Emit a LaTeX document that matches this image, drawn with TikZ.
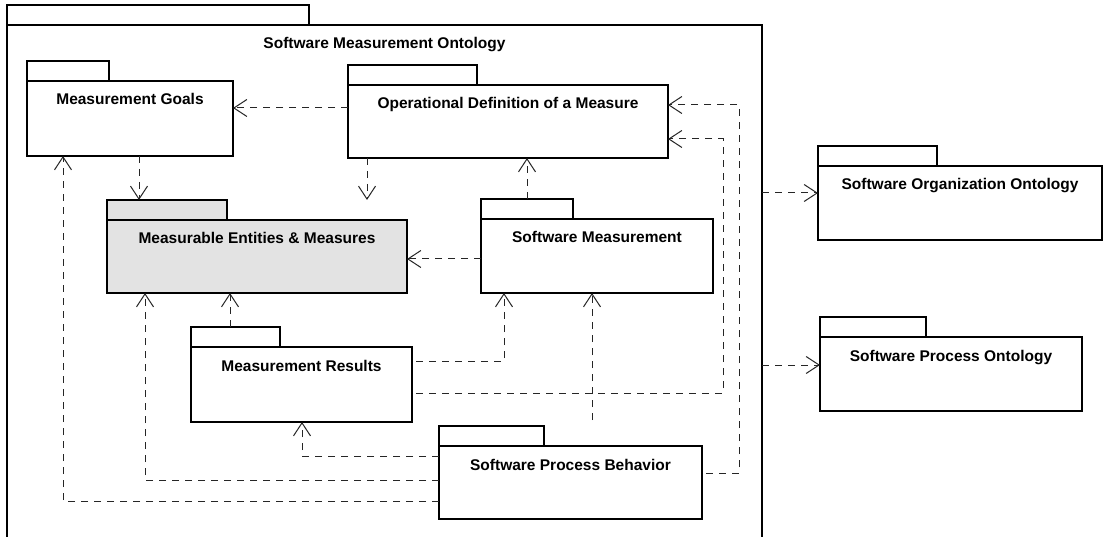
\documentclass[tikz,border=0pt]{standalone}
\usepackage{fontspec}
\setmainfont{Liberation Sans}
\usetikzlibrary{arrows.meta}

\newcommand{\pkgfont}{\fontsize{15.5}{18}\selectfont\bfseries}

% UML package: body node, tab node on its upper left, title near the top
% #1 extra style, #2 name, #3 x, #4 y (top left of body), #5 width, #6 height, #7 tab width, #8 title
\newcommand{\umlpkg}[8][]{%
  \node[pkgbody,#1,minimum width=#5pt,minimum height=#6pt] (#2) at (#3,#4) {};
  \node[pkgtab,#1,minimum width=#7pt] (#2-tab) at (#2.north west) {};
  \node[pkgtitle] (#2-t) at ([yshift=-24pt]#2.north) {#8};
}

\begin{document}
\begin{tikzpicture}[x=1pt,y=-1pt,
  pkgbody/.style={draw=black,line width=2pt,fill=white,inner sep=0pt,outer sep=0pt,anchor=north west},
  pkgtab/.style={draw=black,line width=2pt,fill=white,inner sep=0pt,outer sep=0pt,anchor=south west,minimum height=20pt},
  pkgtitle/.style={font=\pkgfont,anchor=base,inner sep=0pt},
  core/.style={fill=black!11},
  dep/.style={draw=black!85,line width=1pt,dash pattern=on 7pt off 6pt,
    -{Straight Barb[length=13pt,width=17pt,line width=1pt]}},
]
\useasboundingbox (0,0) rectangle (1103,537);
\fill[white] (0,0) rectangle (1103,537);

% enclosing package
\umlpkg{smo}{7}{25}{755}{540}{302}{Software Measurement Ontology}

% inner packages
\umlpkg{goals}{27}{81}{206}{75}{82}{Measurement Goals}
\umlpkg{opdef}{348}{85}{320}{73}{129}{Operational Definition of a Measure}
\umlpkg[core]{meas}{107}{220}{300}{73}{120}{Measurable Entities \& Measures}
\umlpkg{sm}{481}{219}{232}{74}{92}{Software Measurement}
\umlpkg{mr}{191}{347}{221}{75}{89}{Measurement Results}
\umlpkg{spb}{439}{446}{263}{73}{105}{Software Process Behavior}

% external packages
\umlpkg{soo}{818}{166}{284}{74}{119}{Software Organization Ontology}
\umlpkg{spo}{820}{337}{262}{74}{106}{Software Process Ontology}

% dependencies
\draw[dep] (opdef.west |- 0,108) -- (goals.east |- 0,108);
\draw[dep] (139,0 |- goals.south) -- (139,0 |- meas-tab.north);
\draw[dep] (367,0 |- opdef.south) -- (367,0 |- meas-tab.north);
\draw[dep] (527,0 |- sm-tab.north) -- (527,0 |- opdef.south);
\draw[dep] (sm.west |- 0,259) -- (meas.east |- 0,259);
\draw[dep] (230,0 |- mr-tab.north) -- (230,0 |- meas.south);
\draw[dep] ([xshift=4pt]mr.east |- 0,361) -| (504,0 |- sm.south);
\draw[dep] ([xshift=4pt]mr.east |- 0,393) -| (723,139) -- (opdef.east |- 0,139);
\draw[dep] (spb.west |- 0,456) -| (302,0 |- mr.south);
\draw[dep] (spb.west |- 0,480) -| (145,0 |- meas.south);
\draw[dep] (spb.west |- 0,501) -| (63,0 |- goals.south);
\draw[dep] ([xshift=4pt]spb.east |- 0,473) -| (739,105) -- (opdef.east |- 0,105);
\coordinate (spbup) at (592,420);
\draw[dep] (spbup) -- (592,0 |- sm.south);
\draw[dep] (smo.east |- 0,193) -- (soo.west |- 0,193);
\draw[dep] (smo.east |- 0,365) -- (spo.west |- 0,365);
\end{tikzpicture}
\end{document}
